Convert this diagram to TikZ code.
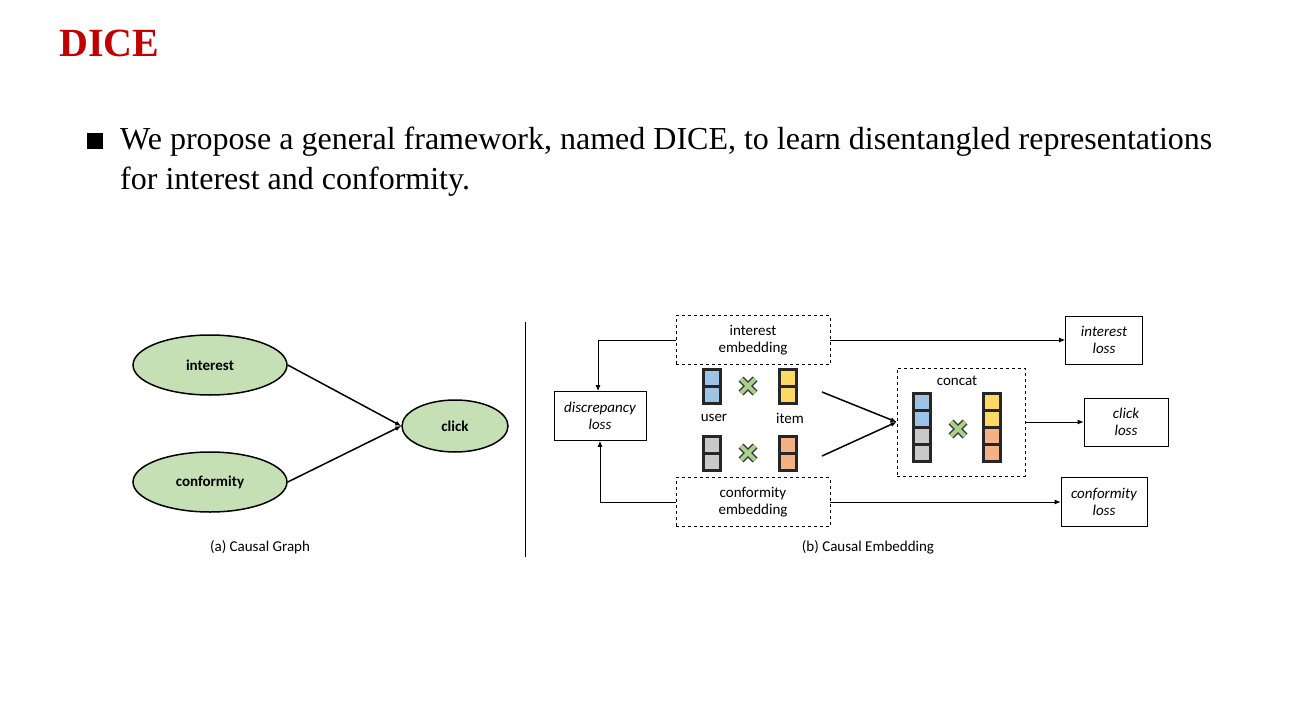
\documentclass[tikz,border=0pt]{standalone}
\usepackage{fontspec}
\setmainfont{Liberation Serif}
\newfontfamily\calf{Carlito}
\usetikzlibrary{arrows.meta,shapes.geometric}
\definecolor{dred}{HTML}{C00000}
\definecolor{lg}{HTML}{C5E0B4}
\definecolor{cb}{HTML}{9DC3E6}
\definecolor{cy}{HTML}{FFD966}
\definecolor{cg}{HTML}{C9C9C9}
\definecolor{co}{HTML}{F4B183}
\definecolor{cx}{HTML}{A9D18E}
\tikzset{
 ell/.style={ellipse,draw,line width=1.5pt,fill=lg,inner sep=0pt,font=\calf\bfseries\fontsize{15}{15}\selectfont},
 dbox/.style={draw,dashed,line width=0.8pt,font=\calf\fontsize{15}{17}\selectfont,align=center,inner sep=0pt},
 sbox/.style={draw,line width=0.8pt,font=\calf\itshape\fontsize{15}{17}\selectfont,align=center,inner sep=0pt},
 ar/.style={-{Latex[length=6pt,width=5pt]},line width=0.8pt},
 cell/.style={draw=black!85,line width=2.2pt,minimum width=17pt,minimum height=17pt,inner sep=0pt},
 lab/.style={font=\calf\fontsize{15}{15}\selectfont}
}
\begin{document}
\begin{tikzpicture}[x=1pt,y=-1pt]
\useasboundingbox[fill=white] (0,0) rectangle (1294,715);
\node[anchor=west,text=dred,font=\bfseries\fontsize{40}{40}\selectfont] (title) at (56,43) {DICE};
\fill (87,133) rectangle (103,149);
\node[anchor=north west,align=left,font=\fontsize{32}{40}\selectfont,inner sep=0pt] (txt) at (120,127) {We propose a general framework, named DICE, to learn disentangled representations\\for interest and conformity.};
% left graph
\node[ell,minimum width=154pt,minimum height=60pt] (int) at (210,365) {interest};
\node[ell,minimum width=154pt,minimum height=60pt] (con) at (210,482) {conformity};
\node[ell,minimum width=106pt,minimum height=52pt] (clk) at (455,426) {click};
\draw[ar,line width=1.5pt] (int.east) -- (clk.west);
\draw[ar,line width=1.5pt] (con.east) -- (clk.west);
\node[lab] (ca) at (260,547) {(a) Causal Graph};
\draw[line width=0.8pt] (525,322) -- (525,557);
% right
\node[dbox,minimum width=154pt,minimum height=49pt] (ie) at (753,340) {interest\\embedding};
\node[dbox,minimum width=154pt,minimum height=49pt] (ce) at (753,502) {conformity\\embedding};
\node[sbox,minimum width=92pt,minimum height=49pt] (dl) at (600,416) {discrepancy\\loss};
\node[sbox,minimum width=77pt,minimum height=48pt] (il) at (1104,340) {interest\\loss};
\node[sbox,minimum width=84pt,minimum height=48pt] (kl) at (1126,422) {click\\loss};
\node[sbox,minimum width=86pt,minimum height=49pt] (cl) at (1104,502) {conformity\\loss};
\node[dbox,minimum width=128pt,minimum height=108pt] (cc) at (961,422) {};
\node[lab] (cct) at (957,381) {concat};
\draw[ar] (ie.west) -- (598,340) -- (598,391);
\draw[ar] (ce.west) -- (600,502) -- (dl.south);
\draw[ar] (ie.east) -- (il.west);
\draw[ar] (ce.east) -- (cl.west);
\draw[ar] (cc.east) -- (kl.west);
% cells
\foreach \x/\y/\c in {712/378/cb,712/395/cb,788/378/cy,788/395/cy,712/445/cg,712/462/cg,788/445/co,788/462/co,
 922/402/cb,922/419/cb,922/436/cg,922/453/cg,992/402/cy,992/419/cy,992/436/co,992/453/co}
  \node[cell,fill=\c] at (\x,\y) {};
\foreach \x/\y in {748/386,748/453,958/429}
  \draw[line width=7pt,black!80] (\x-7,\y-7) -- (\x+7,\y+7) (\x-7,\y+7) -- (\x+7,\y-7);
\foreach \x/\y in {748/386,748/453,958/429}
  \draw[line width=4pt,cx] (\x-7,\y-7) -- (\x+7,\y+7) (\x-7,\y+7) -- (\x+7,\y-7);
\node[lab] (us) at (714,418) {user};
\node[lab] (it) at (790,418) {item};
\coordinate (a1) at (822,392); \coordinate (a2) at (822,456);
\draw[ar,line width=1.5pt] (a1) -- (cc.west);
\draw[ar,line width=1.5pt] (a2) -- (cc.west);
\node[lab] (cbt) at (868,547) {(b) Causal Embedding};
\end{tikzpicture}
\end{document}
